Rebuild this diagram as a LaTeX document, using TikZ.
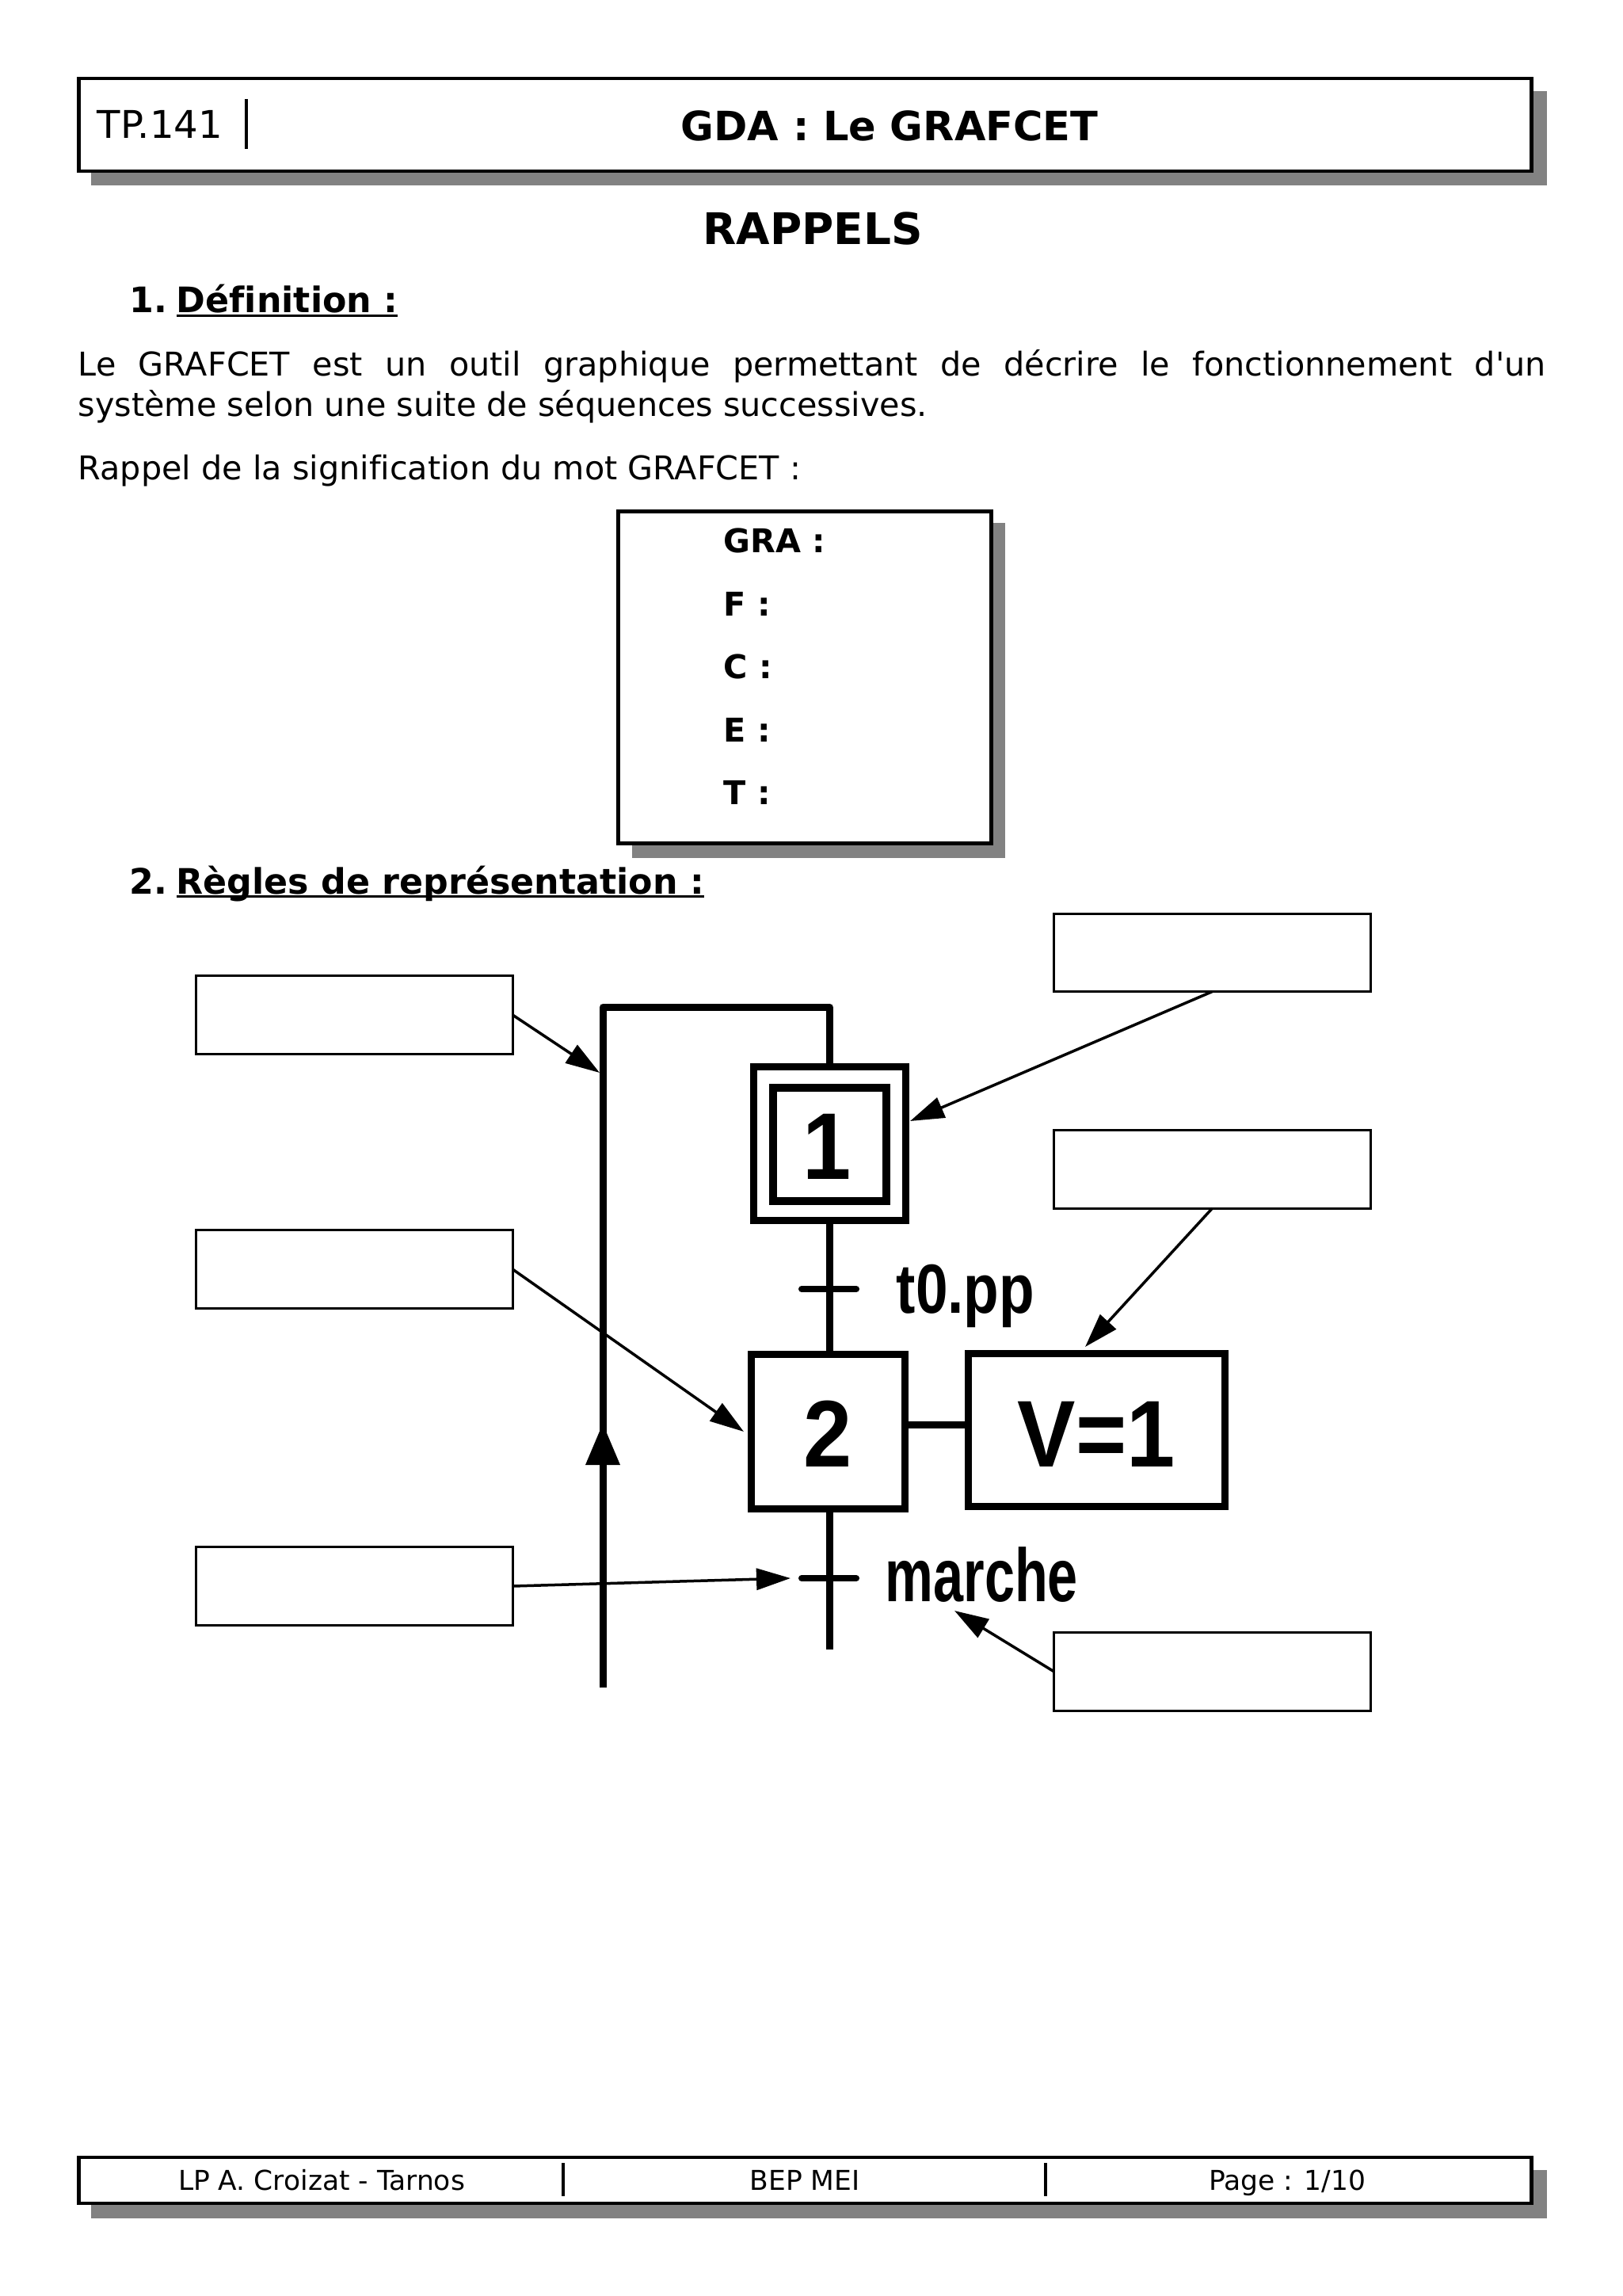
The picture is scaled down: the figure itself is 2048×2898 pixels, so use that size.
\documentclass[tikz,border=0pt]{standalone}
\usepackage{fontspec}
\setmainfont{DejaVu Sans}[Ligatures={TeXOff,CommonOff}]
\newfontfamily\etroite[FakeStretch=0.83]{Liberation Sans}
\newfontfamily\tresetroite[FakeStretch=0.72]{Liberation Sans}
\newfontfamily\moyenne[FakeStretch=0.92]{Liberation Sans}
\newcommand\souligne[1]{\setbox0\hbox{#1}\rlap{\rule[-1.5pt]{\wd0}{0.95pt}}\box0}
\usetikzlibrary{arrows.meta}
\tikzset{
ombre/.style={fill=black!49},
cadre/.style={draw,line width=0.045cm,fill=white,inner sep=0pt,outer sep=0pt},
reponse/.style={draw,line width=0.03cm,fill=white,inner sep=0pt,outer sep=0pt,minimum width=3.99cm,minimum height=0.98cm},
etape/.style={draw,line width=0.09cm,inner sep=0pt,outer sep=0pt},
liaison/.style={line width=0.09cm,line join=round},
transition/.style={line width=0.08cm,line cap=round},
fleche/.style={line width=0.035cm,-{Triangle[length=0.43cm,width=0.27cm]}},
separateur/.style={line width=0.035cm},
texte/.style={anchor=base west,inner sep=0pt,font=\fontsize{11.75}{14.5}\selectfont},
gras/.style={anchor=base west,inner sep=0pt,font=\fontsize{11.75}{14.5}\selectfont\bfseries},
titre/.style={anchor=base,inner sep=0pt,font=\fontsize{15.6}{18}\selectfont\bfseries},
soustitre/.style={anchor=base west,inner sep=0pt,font=\fontsize{12.6}{16}\selectfont\bfseries},
numero/.style={anchor=base,inner sep=0pt,font=\fontsize{34}{38}\selectfont\moyenne\bfseries},
pied/.style={anchor=base,inner sep=0pt,font=\fontsize{9.8}{12}\selectfont}
}
\begin{document}
\begin{tikzpicture}[x=0.01cm,y=-0.01cm]
\useasboundingbox (0,0) rectangle (2048,2898);

% En-tete
\fill[ombre]
(115,115)
rectangle
(1953,234);

\node[cadre,minimum width=18.33cm,minimum height=1.17cm] (entete) at (1016.5,157.5)
{};

\draw[separateur]
(311,125)
--
(311,188);

\node[anchor=base west,inner sep=0pt,font=\fontsize{13.7}{16}\selectfont] (numeroTP) at (122,175)
{TP.141};

\node[titre,font=\fontsize{14.5}{18}\selectfont\bfseries] (titreTP) at (1123,178)
{GDA : Le GRAFCET};

\node[titre] (rappels) at (1026,309)
{RAPPELS};

% Definition
\node[soustitre] (partieUn) at (163,395)
{1.\hspace{-2.6pt} \souligne{Définition :}};

\node[texte,text width=18.52cm,align=justify] (definition) at (98,475)
{Le GRAFCET est un outil graphique permettant de décrire le fonctionnement d'un\linebreak système selon une suite de séquences successives.};

\node[texte] (rappel) at (98,606)
{Rappel de la signification du mot GRAFCET :};

% Sigle
\fill[ombre]
(798,660)
rectangle
(1269,1083);

\node[cadre,minimum width=4.71cm,minimum height=4.19cm] (sigle) at (1016,855)
{};

\node[gras] (gra) at (913,698)
{GRA :};

\node[gras] (f) at (913,778)
{F :};

\node[gras] (c) at (913,857)
{C :};

\node[gras] (e) at (913,936)
{E :};

\node[gras] (t) at (913,1015)
{T :};

\node[soustitre] (partieDeux) at (163,1128)
{2.\hspace{-2.6pt} \souligne{Règles de représentation :}};

% Grafcet
\coordinate (boucleBas) at (761,2130);
\coordinate (boucleHaut) at (1047,1271);
\coordinate (lienAction) at (1180,1798);

\node[etape,minimum width=1.92cm,minimum height=1.94cm] (etapeUn) at (1047.5,1443.5)
{};

\node[etape,line width=0.1cm,minimum width=1.43cm,minimum height=1.43cm] (etapeUnInt) at (1047.5,1444.5)
{};

\node[etape,minimum width=1.93cm,minimum height=1.94cm] (etapeDeux) at (1045.5,1807)
{};

\node[etape,minimum width=3.24cm,minimum height=1.93cm] (action) at (1384.5,1805)
{};

\coordinate (finBas) at (1047,2082);

\draw[liaison]
(boucleBas)
|-
(boucleHaut)
--
(boucleHaut |- etapeUn.north);

\draw[liaison]
(boucleHaut |- etapeUn.south)
--
(boucleHaut |- etapeDeux.north);

\draw[liaison]
(etapeDeux.east |- lienAction)
--
(action.west |- lienAction);

\draw[liaison]
(boucleHaut |- etapeDeux.south)
--
(finBas);

\fill
(761,1797)
--
(739,1849)
--
(783,1849)
--
cycle;

\draw[transition]
(1012,1627)
--
(1081,1627);

\draw[transition]
(1012,1992)
--
(1081,1992);

\node[numero] (numUn) at (1044,1488)
{1};

\node[numero] (numDeux) at (1045,1851)
{2};

\node[numero] (texteAction) at (1384,1851)
{V=1};

\node[anchor=base west,inner sep=0pt,font=\fontsize{25}{28}\selectfont\etroite\bfseries] (receptUn) at (1131,1657)
{t0.pp};

\node[anchor=base west,inner sep=0pt,font=\fontsize{27}{30}\selectfont\tresetroite\bfseries] (receptDeux) at (1117,2021)
{marche};

% Cadres a remplir
\node[reponse] (repBoucle) at (447.5,1281)
{};

\node[reponse] (repEtape) at (447.5,1602)
{};

\node[reponse] (repTransition) at (447.5,2002)
{};

\node[reponse] (repInitiale) at (1530.5,1202.5)
{};

\node[reponse] (repAction) at (1530.5,1476)
{};

\node[reponse] (repReceptivite) at (1530.5,2110)
{};

\coordinate (versBoucle) at (757,1354);
\coordinate (versEtape) at (939,1807);
\coordinate (versTransition) at (998,1992);
\coordinate (versInitiale) at (1149,1415);
\coordinate (versAction) at (1370,1700);
\coordinate (versReceptivite) at (1205,2033);

\draw[fleche]
(repBoucle.east)
--
(versBoucle);

\draw[fleche]
(repEtape.east)
--
(versEtape);

\draw[fleche]
(repTransition.east)
--
(versTransition);

\draw[fleche]
(repInitiale.south)
--
(versInitiale);

\draw[fleche]
(repAction.south)
--
(versAction);

\draw[fleche]
(repReceptivite.west)
--
(versReceptivite);

% Pied de page
\fill[ombre]
(115,2739)
rectangle
(1953,2800);

\node[cadre,minimum width=18.33cm,minimum height=0.58cm] (piedPage) at (1016.5,2752)
{};

\draw[separateur]
(711,2730)
--
(711,2772);

\draw[separateur]
(1320,2730)
--
(1320,2772);

\node[pied] (lycee) at (406,2764)
{LP A. Croizat - Tarnos};

\node[pied] (section) at (1016,2764)
{BEP MEI};

\node[pied] (page) at (1625,2764)
{Page : 1/10};

\end{tikzpicture}
\end{document}
